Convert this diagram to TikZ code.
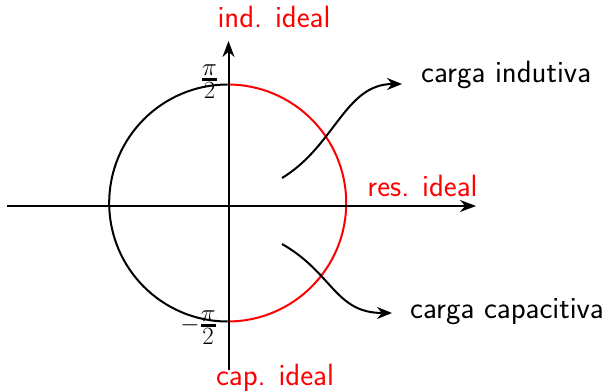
\documentclass[tikz,border=0pt]{standalone}
\usepackage{amsmath}
\usetikzlibrary{arrows.meta}
\begin{document}
\begin{tikzpicture}[x=1pt,y=1pt,
  ln/.style={line width=2pt},
  ax/.style={ln,-{Stealth[length=16pt,width=12pt]}},
  cv/.style={ln,-{Stealth[length=15pt,width=12pt]}},
  lbl/.style={font=\fontsize{30.8}{36}\selectfont\sffamily,inner sep=0pt},
  rlbl/.style={lbl,text=red},
  fr/.style={font=\fontsize{38}{44}\selectfont,inner sep=0pt}]
\useasboundingbox (0,0) rectangle (607,391);
\coordinate (c) at (227.7,188);
\coordinate (xl) at (7,185);
\coordinate (xr) at (476,185);
\coordinate (yb) at (228.5,21);
\coordinate (yt) at (228.5,350);
% circle
\draw[ln] (c) ++(90:118.5) coordinate (ptop) arc[start angle=90,end angle=270,radius=118.5] coordinate (pbot);
\draw[ln,red] (ptop) arc[start angle=90,end angle=-90,radius=118.5];
% axes
\draw[ax] (xl) -- (xr);
\draw[ax] (yb) -- (yt);
% labels
\node[rlbl,anchor=base] (ind) at (274,363) {ind. ideal};
\node[rlbl,anchor=base] (cap) at (275,6) {cap. ideal};
\node[rlbl,anchor=base] (res) at (422.5,194) {res. ideal};
\node[lbl,anchor=base west] (ci) at (421,308) {carga indutiva};
\node[lbl,anchor=base west] (cc) at (410,73) {carga capacitiva};
\node[fr] (p2) at (209.5,309) {$\genfrac{}{}{2.4pt}{}{\pi}{2}$};
\node[fr] (m2) at (198.5,63) {$-\genfrac{}{}{2.4pt}{}{\pi}{2}$};
% curved arrows
\coordinate (s1) at (282,213);
\coordinate (e1) at (402,307);
\coordinate (s2) at (282,147);
\coordinate (e2) at (392,78);
\draw[cv] (s1) .. controls (335,245) and (345,307) .. (e1);
\draw[cv] (s2) .. controls (333,118) and (335,78) .. (e2);
\end{tikzpicture}
\end{document}
